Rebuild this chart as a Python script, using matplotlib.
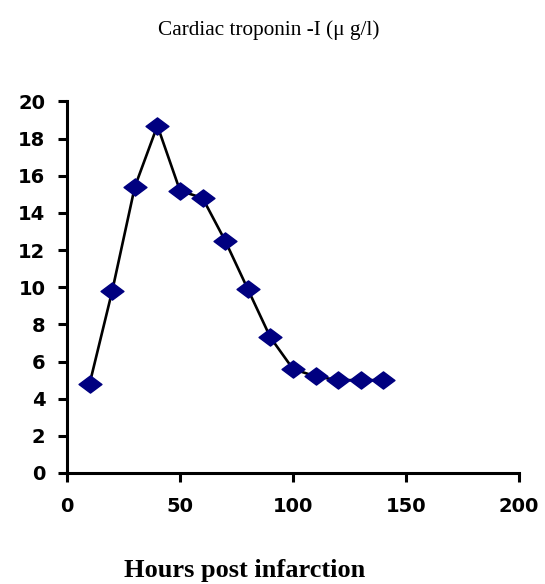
import matplotlib.pyplot as plt
from matplotlib.path import Path

hours = [10, 20, 30, 40, 50, 60, 70, 80, 90, 100, 110, 120, 130, 140]
troponin = [4.8, 9.8, 15.4, 18.7, 15.2, 14.8, 12.5, 9.9, 7.3, 5.6, 5.2, 5.0, 5.0, 5.0]
x_ticks = [0, 50, 100, 150, 200]
y_ticks = [0, 2, 4, 6, 8, 10, 12, 14, 16, 18, 20]

# flattened diamond marker (wider than tall)
diamond = Path([(-1, 0), (0, 0.75), (1, 0), (0, -0.75), (-1, 0)],
               [Path.MOVETO, Path.LINETO, Path.LINETO, Path.LINETO, Path.CLOSEPOLY])

fig = plt.figure(figsize=(5.45, 5.84), dpi=100)
ax = fig.add_axes([67 / 545, 111 / 584, 452 / 545, 371.5 / 584])

ax.plot(hours, troponin, color="black", lw=1.9, zorder=1)
ax.plot(hours, troponin, ls="none", marker=diamond, markersize=16.5,
        markerfacecolor="#000080", markeredgecolor="#000080", zorder=2)

ax.set_xlim(0, 200)
ax.set_ylim(0, 20)
ax.set_xticks(x_ticks)
ax.set_yticks(y_ticks)

for side in ["top", "right"]:
    ax.spines[side].set_visible(False)
for side in ["left", "bottom"]:
    ax.spines[side].set_linewidth(2.2)

ax.tick_params(axis="both", direction="out", length=6.5, width=2.2)
ax.tick_params(axis="y", pad=9)
ax.tick_params(axis="x", pad=11)
for lab in ax.get_xticklabels() + ax.get_yticklabels():
    lab.set_fontfamily("DejaVu Sans")
    lab.set_fontweight("bold")
    lab.set_fontsize(14)

fig.text(269 / 545, 1 - 30 / 584, "Cardiac troponin -I (\u03bc g/l)",
         ha="center", va="center", family="Liberation Serif", fontsize=15.3)
fig.text(245 / 545, 1 - 570 / 584, "Hours post infarction",
         ha="center", va="center", family="Liberation Serif",
         fontweight="bold", fontsize=19)

fig.savefig("out.png", dpi=100)
